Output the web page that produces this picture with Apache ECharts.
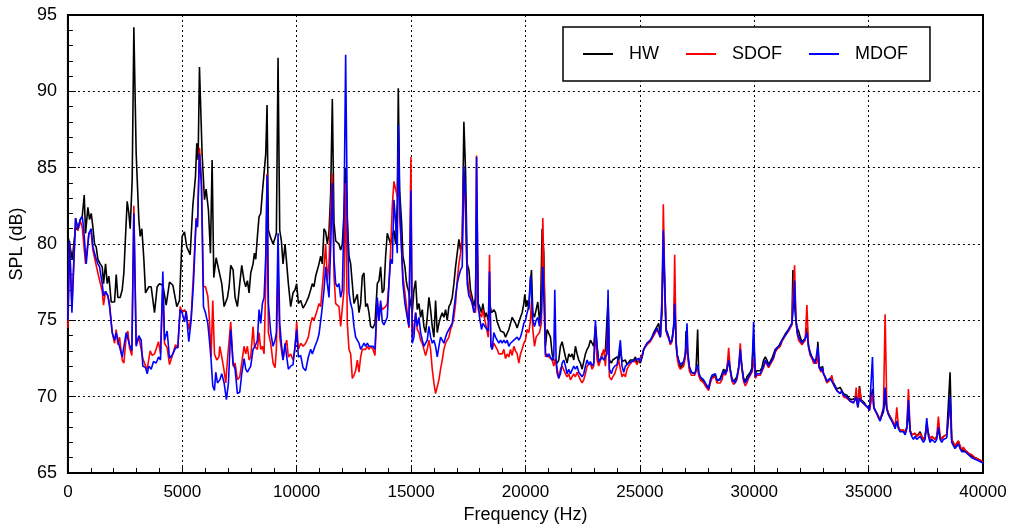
<!DOCTYPE html>
<html>
<head>
<meta charset="utf-8">
<script src="https://cdn.jsdelivr.net/npm/echarts@6/dist/echarts.min.js"></script>
<style>
html,body{margin:0;padding:0;background:#fff;}
#chart{width:1013px;height:531px;}
</style>
</head>
<body>
<div id="chart"></div>
<script>
// Series names
const seriesNames = ['HW', 'SDOF', 'MDOF'];
// Axis ticks
const xTicks = [0, 5000, 10000, 15000, 20000, 25000, 30000, 35000, 40000];
const yTicks = [65, 70, 75, 80, 85, 90, 95];

// HW (black): [frequency Hz, SPL dB]
const hwData = [
[0,80.5],[73,80.0],[189,79.0],[335,81.1],[437,80.9],[539,81.6],[626,81.8],[713,83.2],[771,80.7],[873,82.4],[946,81.6],[1019,82.0],[1092,81.1],[1164,80.0],[1237,79.8],[1310,79.0],[1412,78.7],[1500,78.5],[1557,77.4],[1645,78.7],[1718,77.4],[1790,77.9],[1893,76.2],[2038,76.2],[2111,78.0],[2183,76.5],[2285,76.5],[2373,77.0],[2445,78.1],[2518,80.5],[2590,82.8],[2664,82.0],[2722,81.0],[2809,84.2],[2882,94.2],[2984,85.9],[3100,81.6],[3159,80.5],[3232,81.0],[3319,79.0],[3392,76.8],[3537,77.2],[3639,77.2],[3785,75.5],[3901,77.2],[4003,77.4],[4149,77.3],[4295,76.0],[4440,77.5],[4586,77.3],[4760,75.9],[4877,76.3],[4993,80.5],[5095,80.8],[5197,79.8],[5284,79.8],[5343,79.3],[5459,82.5],[5575,84.4],[5633,86.6],[5691,85.5],[5750,91.6],[5866,85.9],[5970,82.9],[6041,83.6],[6143,82.2],[6230,79.4],[6303,85.5],[6376,77.8],[6478,79.1],[6594,78.3],[6638,78.2],[6725,77.4],[6827,75.9],[6900,75.8],[6973,76.5],[7046,77.2],[7118,78.6],[7220,78.3],[7307,76.5],[7409,75.9],[7511,77.4],[7598,78.6],[7700,77.6],[7773,77.2],[7846,77.6],[7919,76.8],[7991,78.1],[8093,78.7],[8152,79.4],[8210,79.0],[8283,80.5],[8355,81.8],[8428,82.0],[8501,83.4],[8574,83.5],[8647,85.9],[8705,89.1],[8763,80.9],[8865,80.4],[8967,80.0],[9054,80.4],[9112,80.7],[9185,92.2],[9258,80.9],[9331,80.2],[9403,78.7],[9491,80.0],[9564,78.7],[9636,77.4],[9738,75.9],[9840,76.8],[9927,77.0],[10000,77.4],[10073,76.1],[10175,76.3],[10277,75.8],[10393,76.1],[10510,76.5],[10612,77.0],[10684,77.4],[10757,77.2],[10830,77.9],[10903,78.3],[10976,78.7],[11048,79.2],[11121,78.7],[11194,81.0],[11267,80.8],[11340,80.0],[11412,80.8],[11485,83.3],[11558,89.5],[11631,81.4],[11704,80.2],[11776,80.2],[11849,80.0],[11922,79.6],[11995,80.0],[12067,82.0],[12140,85.0],[12213,81.5],[12286,79.2],[12359,78.7],[12431,77.4],[12504,76.1],[12577,76.4],[12650,76.7],[12723,75.5],[12795,76.1],[12868,77.9],[12941,78.1],[13014,75.9],[13087,76.1],[13160,75.5],[13232,74.6],[13334,74.5],[13422,74.8],[13523,77.4],[13596,77.6],[13669,78.5],[13742,76.8],[13815,77.0],[13887,79.2],[13960,80.7],[14033,80.8],[14106,80.0],[14179,80.5],[14251,80.9],[14325,80.0],[14397,82.7],[14441,90.2],[14499,83.5],[14586,81.4],[14644,79.2],[14731,78.5],[14790,77.6],[14834,77.2],[14877,77.0],[14935,76.5],[14993,76.5],[15052,75.5],[15125,77.0],[15198,77.6],[15270,75.7],[15343,76.1],[15416,75.2],[15489,75.7],[15561,74.6],[15634,74.2],[15707,75.2],[15780,76.5],[15853,75.7],[15925,74.6],[15998,73.9],[16071,76.3],[16144,74.2],[16217,74.8],[16289,75.2],[16362,75.5],[16435,75.2],[16508,75.7],[16580,75.0],[16653,75.9],[16726,76.1],[16799,76.5],[16872,77.4],[16944,78.5],[17017,78.6],[17090,80.3],[17163,79.6],[17236,80.3],[17308,88.0],[17381,84.8],[17454,78.7],[17527,78.3],[17599,77.0],[17672,76.5],[17745,75.9],[17818,76.5],[17861,82.0],[17934,76.1],[17992,75.9],[18080,75.5],[18138,76.1],[18225,75.2],[18284,75.5],[18371,75.0],[18429,76.1],[18517,75.5],[18618,75.7],[18691,75.5],[18764,74.9],[18837,74.6],[18910,74.3],[18982,74.4],[19055,74.2],[19128,73.9],[19201,74.0],[19273,74.4],[19346,74.8],[19419,75.2],[19492,75.0],[19565,74.8],[19637,74.5],[19710,74.4],[19782,75.2],[19855,75.5],[19928,76.1],[19972,76.7],[20030,75.9],[20073,76.3],[20146,75.7],[20219,77.6],[20263,78.3],[20321,75.5],[20394,75.2],[20467,75.7],[20539,76.2],[20612,75.0],[20656,75.5],[20729,81.0],[20801,79.4],[20875,73.3],[20947,74.4],[21020,74.5],[21093,73.9],[21166,72.8],[21238,72.4],[21311,72.5],[21384,72.2],[21456,72.4],[21529,73.3],[21602,73.6],[21675,73.5],[21748,72.6],[21820,72.2],[21893,72.8],[21966,72.6],[22039,72.8],[22111,72.4],[22184,73.3],[22257,72.8],[22330,72.4],[22402,72.2],[22475,71.8],[22548,72.3],[22621,72.8],[22694,73.1],[22767,73.3],[22839,73.7],[22912,73.5],[22985,73.3],[23058,74.6],[23130,73.3],[23203,72.2],[23276,72.4],[23349,72.8],[23422,72.8],[23494,73.0],[23567,73.1],[23611,76.4],[23669,72.4],[23756,72.2],[23815,72.4],[23902,72.3],[24004,72.6],[24077,72.4],[24149,73.1],[24222,72.3],[24295,72.2],[24368,72.4],[24440,72.1],[24513,72.2],[24586,72.4],[24659,72.3],[24732,72.4],[24804,72.6],[24877,72.2],[24950,72.4],[25023,72.2],[25096,72.6],[25168,73.1],
[25241,73.3],[25314,73.5],[25387,73.4],[25460,73.7],[25532,73.9],[25605,74.2],[25678,74.2],[25751,74.6],[25823,74.8],[25896,74.0],[25969,75.5],[26027,80.5],[26085,77.2],[26144,74.4],[26202,74.2],[26260,73.9],[26333,73.5],[26406,73.7],[26479,74.6],[26523,76.5],[26581,73.6],[26624,72.8],[26697,72.3],[26770,71.9],[26843,72.0],[26916,72.2],[26989,72.8],[27018,74.3],[27061,73.0],[27105,72.6],[27163,71.9],[27250,71.6],[27309,71.5],[27396,71.5],[27454,71.7],[27527,74.4],[27571,71.5],[27643,71.2],[27716,71.1],[27789,71.0],[27862,70.8],[27935,70.9],[28007,70.6],[28080,71.0],[28153,71.3],[28226,71.2],[28299,71.4],[28371,71.0],[28444,71.0],[28517,71.2],[28590,71.3],[28662,71.8],[28735,71.6],[28808,71.9],[28881,72.6],[28954,71.8],[29026,71.2],[29099,71.0],[29172,70.9],[29245,71.3],[29318,71.9],[29390,72.8],[29463,71.9],[29536,71.2],[29609,71.0],[29681,71.3],[29754,71.4],[29827,71.6],[29900,71.9],[29973,73.8],[30045,71.5],[30118,71.7],[30191,71.8],[30264,71.7],[30337,71.9],[30409,72.4],[30482,72.6],[30555,72.4],[30628,72.1],[30700,72.3],[30773,72.5],[30846,72.6],[30919,73.1],[30992,73.2],[31064,73.3],[31137,73.5],[31210,73.7],[31283,73.9],[31355,74.1],[31428,74.2],[31501,74.4],[31574,74.5],[31647,74.8],[31690,78.3],[31763,76.0],[31821,75.0],[31880,74.5],[31938,74.3],[32011,73.9],[32084,73.6],[32156,73.7],[32229,73.8],[32302,74.5],[32375,73.3],[32447,72.9],[32520,72.6],[32593,72.4],[32666,72.3],[32738,72.4],[32781,73.6],[32840,72.0],[32927,71.8],[32985,72.0],[33029,71.5],[33102,71.3],[33175,71.0],[33247,71.1],[33320,71.2],[33393,71.3],[33466,70.9],[33538,70.7],[33611,70.5],[33684,70.4],[33757,70.6],[33830,70.5],[33902,70.2],[33975,70.3],[34048,70.1],[34121,69.9],[34193,69.8],[34266,69.8],[34339,69.7],[34412,69.9],[34456,70.1],[34528,69.4],[34601,70.7],[34674,69.8],[34747,69.7],[34819,69.6],[34892,69.4],[34965,69.3],[35038,69.2],[35111,69.2],[35169,70.5],[35227,69.3],[35285,69.1],[35358,68.9],[35431,68.7],[35504,68.5],[35576,68.4],[35649,69.0],[35722,70.0],[35795,69.2],[35868,68.9],[35940,68.7],[36013,68.5],[36086,68.2],[36159,68.0],[36231,68.4],[36304,68.0],[36377,67.8],[36450,67.9],[36523,67.8],[36595,67.6],[36668,68.0],[36741,69.0],[36814,67.8],[36886,67.5],[36959,67.4],[37032,67.6],[37105,67.4],[37178,67.3],[37250,67.7],[37323,67.4],[37396,67.2],[37469,67.4],[37541,68.0],[37614,67.6],[37687,67.2],[37760,67.4],[37833,67.3],[37905,67.2],[37978,67.4],[38051,68.0],[38124,67.4],[38197,67.2],[38269,67.4],[38342,67.3],[38415,67.5],[38488,67.4],[38561,71.6],[38633,67.2],[38706,66.9],[38779,66.7],[38852,66.8],[38924,67.1],[38997,66.7],[39070,66.5],[39143,66.6],[39216,66.5],[39288,66.4],[39361,66.3],[39434,66.2],[39507,66.1],[39580,66.2],[39652,66.0],[39725,66.1],[39798,65.9],[39871,65.9],[39943,65.7],[40000,65.7]
];

// SDOF (red)
const sdofData = [
[0,74.5],[73,80.0],[175,75.9],[335,81.7],[437,80.9],[539,81.5],[626,81.1],[684,81.2],[771,78.7],[917,80.7],[1019,80.7],[1092,79.6],[1164,79.1],[1237,79.0],[1310,78.1],[1382,78.1],[1500,76.9],[1557,76.0],[1645,76.9],[1747,76.6],[1820,76.1],[1936,74.2],[2038,73.5],[2111,74.4],[2183,73.4],[2256,73.9],[2373,72.4],[2445,72.2],[2547,73.9],[2620,74.3],[2693,73.2],[2795,72.7],[2882,82.5],[2984,73.4],[3100,73.9],[3202,73.1],[3275,72.5],[3392,72.0],[3465,71.8],[3596,73.0],[3683,72.7],[3785,72.8],[3858,72.8],[3960,73.6],[4047,72.8],[4149,77.2],[4222,73.5],[4338,73.2],[4440,72.1],[4586,72.8],[4702,73.4],[4804,73.2],[4906,75.9],[4993,75.5],[5095,75.7],[5168,75.5],[5284,74.4],[5386,75.2],[5488,78.1],[5604,81.7],[5662,81.2],[5750,86.3],[5837,84.2],[5924,77.2],[6012,77.2],[6114,76.6],[6186,75.0],[6259,72.6],[6332,76.3],[6405,72.8],[6507,72.4],[6600,72.6],[6638,73.3],[6725,72.6],[6827,71.7],[6900,70.9],[6973,72.4],[7046,72.4],[7118,74.9],[7220,72.0],[7307,72.2],[7409,71.1],[7511,71.3],[7598,72.2],[7700,73.3],[7773,72.8],[7846,73.3],[7919,72.4],[7991,72.6],[8093,74.6],[8152,73.3],[8283,73.1],[8355,74.2],[8428,73.1],[8501,73.3],[8574,72.8],[8647,77.4],[8705,84.6],[8763,74.2],[8865,73.5],[8967,72.2],[9054,71.9],[9112,73.1],[9185,78.5],[9258,73.9],[9331,73.1],[9403,72.4],[9491,73.3],[9564,73.7],[9636,72.6],[9738,72.8],[9840,72.4],[9927,73.1],[10000,74.9],[10073,73.1],[10175,73.5],[10277,73.3],[10393,73.5],[10510,73.9],[10612,74.8],[10684,75.2],[10757,75.0],[10830,75.0],[10903,75.7],[10976,76.1],[11048,75.9],[11121,75.9],[11194,78.5],[11267,80.0],[11340,77.6],[11412,78.7],[11485,82.2],[11558,84.6],[11631,77.9],[11704,76.1],[11776,76.1],[11849,75.9],[11922,74.6],[11995,74.6],[12067,77.0],[12140,84.0],[12213,74.8],[12286,73.1],[12359,72.8],[12431,71.2],[12504,71.4],[12577,71.7],[12650,72.4],[12723,71.6],[12795,72.6],[12868,73.1],[12941,73.1],[13014,73.1],[13087,73.3],[13160,73.1],[13232,73.3],[13334,73.1],[13422,72.7],[13523,76.3],[13596,75.0],[13669,76.1],[13742,75.7],[13815,75.8],[13887,75.9],[13960,76.1],[14033,77.4],[14106,79.6],[14179,82.5],[14251,84.1],[14325,84.2],[14397,83.1],[14441,86.0],[14499,81.8],[14586,79.6],[14644,77.9],[14731,76.8],[14834,75.5],[14906,74.5],[14993,85.7],[15052,73.9],[15125,74.6],[15198,75.5],[15270,74.4],[15343,74.2],[15416,73.7],[15489,73.5],[15561,73.1],[15634,72.7],[15707,73.1],[15780,73.7],[15853,73.1],[15925,71.8],[15998,70.9],[16071,70.2],[16144,70.1],[16217,71.1],[16289,71.8],[16362,72.4],[16435,73.1],[16508,73.5],[16580,73.7],[16653,73.9],[16726,74.4],[16799,74.7],[16872,75.2],[16944,76.1],[17017,77.6],[17090,78.7],[17163,79.4],[17236,80.5],[17308,84.8],[17381,81.8],[17454,77.9],[17527,77.0],[17599,76.6],[17672,76.1],[17745,75.7],[17818,75.5],[17861,85.8],[17934,75.7],[17992,75.5],[18080,75.2],[18138,75.7],[18225,75.0],[18284,74.6],[18371,73.9],[18429,79.3],[18487,73.5],[18546,73.1],[18618,73.5],[18691,73.3],[18764,73.1],[18837,72.8],[18910,72.7],[18982,72.8],[19055,73.1],[19128,72.5],[19201,72.8],[19273,72.6],[19346,73.1],[19419,72.7],[19492,73.3],[19565,73.0],[19637,72.8],[19710,72.2],[19782,72.8],[19855,73.1],[19928,73.5],[20001,73.7],[20073,74.4],[20146,74.2],[20219,75.0],[20263,76.3],[20321,74.4],[20394,73.3],[20467,73.9],[20539,73.9],[20612,74.2],[20699,74.8],[20758,81.7],[20816,77.6],[20875,72.6],[20947,72.8],[21020,72.6],[21093,72.7],[21166,72.4],[21238,72.0],[21311,72.5],[21384,71.5],[21456,71.2],[21529,71.8],[21602,72.0],[21675,72.0],[21748,71.5],[21820,71.3],[21893,71.5],[21966,71.1],[22039,71.3],[22111,71.5],[22184,71.3],[22257,71.6],[22330,71.5],[22402,71.1],[22475,70.9],[22548,71.1],[22621,71.5],[22694,72.0],[22767,72.1],[22839,72.2],[22912,71.8],[22985,72.0],[23058,74.4],[23130,72.4],[23203,72.0],[23276,72.1],[23349,72.8],[23422,73.1],[23494,72.0],[23567,72.0],[23611,75.0],[23669,71.3],[23756,71.1],[23815,71.3],[23902,71.5],[24004,72.0],[24077,72.4],[24149,71.8],[24222,71.3],[24295,71.5],[24368,71.3],[24440,71.8],[24513,72.0],[24586,72.0],[24659,72.3],[24732,72.4],[24804,72.3],[24877,72.1],[24950,72.4],[25023,72.3],[25096,72.7],[25168,73.1],
[25241,73.2],[25314,73.4],[25387,73.3],[25460,73.6],[25532,73.8],[25605,74.0],[25678,74.1],[25751,74.4],[25823,74.5],[25896,73.9],[25969,76.0],[26027,82.6],[26085,77.6],[26144,74.3],[26202,74.0],[26260,73.8],[26333,73.4],[26406,73.6],[26479,74.5],[26523,79.3],[26581,73.7],[26624,72.6],[26697,72.0],[26770,71.8],[26843,71.9],[26916,72.0],[26989,72.6],[27018,73.2],[27061,73.6],[27105,72.5],[27163,71.7],[27250,71.4],[27309,71.3],[27396,71.4],[27454,71.5],[27527,72.0],[27571,71.4],[27643,71.1],[27716,71.0],[27789,70.9],[27862,70.7],[27935,70.8],[28007,70.4],[28080,70.9],[28153,71.2],[28226,71.1],[28299,71.3],[28371,70.9],[28444,70.8],[28517,70.9],[28590,71.1],[28662,71.6],[28735,71.4],[28808,71.7],[28881,73.2],[28954,71.7],[29026,71.0],[29099,70.8],[29172,70.7],[29245,71.1],[29318,71.8],[29390,73.5],[29463,71.8],[29536,71.0],[29609,70.7],[29681,70.9],[29754,71.2],[29827,71.4],[29900,71.6],[29973,72.5],[30045,71.2],[30118,71.4],[30191,71.5],[30264,71.4],[30337,71.5],[30409,71.9],[30482,72.3],[30555,72.1],[30628,71.9],[30700,72.1],[30773,72.3],[30846,72.5],[30919,72.9],[30992,73.1],[31064,73.2],[31137,73.3],[31210,73.6],[31283,73.8],[31355,74.0],[31428,74.1],[31501,74.3],[31574,74.4],[31647,74.7],[31690,76.5],[31763,78.6],[31821,75.1],[31880,74.1],[31938,73.7],[32011,73.6],[32084,73.4],[32156,73.5],[32229,73.7],[32302,76.0],[32375,73.2],[32447,72.7],[32520,72.5],[32593,72.2],[32666,72.1],[32738,72.2],[32781,72.9],[32840,71.9],[32927,71.6],[32985,71.8],[33029,71.5],[33102,71.2],[33175,70.9],[33247,71.0],[33320,71.1],[33393,71.4],[33466,70.8],[33538,70.6],[33611,70.4],[33684,70.3],[33757,70.2],[33830,70.4],[33902,70.0],[33975,70.1],[34048,69.9],[34121,69.8],[34193,69.7],[34266,69.7],[34339,69.6],[34412,69.8],[34456,70.6],[34528,69.3],[34601,70.6],[34674,69.7],[34747,69.6],[34819,69.5],[34892,69.4],[34965,69.3],[35038,69.1],[35111,69.2],[35169,70.2],[35227,69.3],[35285,69.1],[35358,68.9],[35431,68.7],[35504,68.5],[35576,68.4],[35649,69.3],[35722,75.4],[35795,69.3],[35868,68.9],[35940,68.7],[36013,68.5],[36086,68.3],[36159,68.0],[36231,69.3],[36304,68.0],[36377,67.8],[36450,67.9],[36523,67.8],[36595,67.6],[36668,68.0],[36741,70.5],[36814,67.8],[36886,67.5],[36959,67.4],[37032,67.6],[37105,67.4],[37178,67.3],[37250,67.6],[37323,67.4],[37396,67.2],[37469,67.4],[37541,68.3],[37614,67.6],[37687,67.2],[37760,67.4],[37833,67.3],[37905,67.2],[37978,67.4],[38051,68.7],[38124,67.4],[38197,67.2],[38269,67.4],[38342,67.3],[38415,67.5],[38488,67.4],[38561,69.5],[38633,67.2],[38706,67.0],[38779,66.8],[38852,66.9],[38924,67.1],[38997,66.8],[39070,66.5],[39143,66.7],[39216,66.5],[39288,66.4],[39361,66.3],[39434,66.2],[39507,66.2],[39580,66.2],[39652,66.0],[39725,66.1],[39798,65.9],[39871,65.9],[39943,65.8],[40000,65.7]
];

// MDOF (blue)
const mdofData = [
[0,75.0],[73,80.2],[175,75.5],[335,81.7],[437,81.0],[539,81.6],[626,81.8],[684,81.1],[800,78.7],[917,80.7],[1019,81.0],[1092,79.8],[1164,79.4],[1237,79.0],[1310,78.7],[1382,78.5],[1500,77.4],[1557,76.6],[1645,76.9],[1747,76.6],[1820,75.9],[1936,74.2],[2038,73.7],[2111,74.2],[2183,73.7],[2256,73.8],[2373,72.6],[2445,72.5],[2547,74.2],[2620,74.3],[2693,73.4],[2795,73.0],[2882,82.0],[2984,73.3],[3100,74.0],[3202,73.7],[3275,72.0],[3392,71.9],[3465,71.5],[3537,72.0],[3639,71.8],[3741,72.3],[3858,72.2],[3960,72.6],[4047,72.4],[4149,78.2],[4222,73.7],[4338,74.3],[4440,72.5],[4586,72.8],[4702,73.2],[4804,73.2],[4906,75.7],[4993,75.5],[5095,74.9],[5168,75.6],[5284,73.6],[5386,75.0],[5488,77.4],[5604,81.6],[5662,81.1],[5750,85.9],[5837,83.8],[5924,75.9],[6012,75.5],[6114,74.8],[6186,73.7],[6259,72.4],[6332,70.7],[6405,70.4],[6463,71.6],[6536,70.9],[6638,71.1],[6725,71.5],[6827,70.9],[6929,69.8],[7016,70.9],[7118,74.4],[7220,72.2],[7307,71.8],[7409,70.2],[7511,70.3],[7598,71.5],[7700,72.5],[7773,71.8],[7846,71.6],[7919,71.5],[7991,72.0],[8093,73.1],[8181,73.3],[8283,73.7],[8355,75.7],[8428,74.8],[8501,76.1],[8574,76.5],[8647,79.2],[8705,84.5],[8763,76.1],[8865,74.2],[8967,73.3],[9054,73.7],[9112,74.2],[9185,80.7],[9258,74.8],[9331,73.5],[9403,72.4],[9491,73.5],[9564,72.6],[9636,71.8],[9738,72.0],[9840,72.1],[9927,72.1],[10000,74.4],[10073,72.6],[10175,72.7],[10277,71.9],[10393,71.7],[10510,72.6],[10612,73.1],[10684,72.8],[10800,73.3],[10903,73.7],[10976,74.1],[11092,75.5],[11194,77.0],[11267,78.5],[11340,77.4],[11412,76.5],[11485,79.8],[11558,84.0],[11631,79.0],[11704,77.4],[11776,77.2],[11849,77.4],[11922,76.5],[11995,77.0],[12067,81.8],[12140,92.4],[12213,81.8],[12286,76.8],[12359,76.1],[12431,75.7],[12504,74.6],[12577,73.9],[12650,73.7],[12723,73.5],[12795,73.1],[12868,73.3],[12941,73.5],[13014,73.3],[13087,73.5],[13160,73.3],[13232,73.4],[13334,73.3],[13422,73.1],[13523,76.5],[13596,75.0],[13669,76.3],[13742,74.9],[13815,74.7],[13887,74.8],[13960,75.2],[14033,77.4],[14106,79.0],[14179,78.7],[14251,82.9],[14325,81.4],[14397,79.4],[14441,87.8],[14499,82.9],[14586,79.6],[14644,77.4],[14731,76.1],[14834,75.2],[14906,74.6],[14993,83.5],[15052,73.5],[15125,73.9],[15198,75.5],[15270,74.6],[15343,75.2],[15416,74.2],[15489,73.7],[15561,73.3],[15634,73.5],[15707,73.7],[15780,74.6],[15853,73.9],[15925,73.5],[15998,73.7],[16071,73.3],[16144,72.6],[16217,73.3],[16289,73.9],[16362,73.7],[16435,73.5],[16508,73.9],[16580,74.2],[16653,74.4],[16726,74.6],[16799,74.8],[16872,75.7],[16944,76.6],[17017,77.4],[17090,77.9],[17163,78.3],[17236,78.5],[17308,85.1],[17381,82.9],[17454,77.4],[17527,76.6],[17599,76.4],[17672,76.1],[17745,75.5],[17818,75.9],[17861,85.7],[17934,76.1],[17992,75.2],[18080,74.4],[18138,74.8],[18225,74.6],[18284,74.6],[18371,74.3],[18429,78.2],[18487,73.3],[18546,73.1],[18618,74.2],[18691,73.9],[18764,73.7],[18837,73.5],[18910,73.7],[18982,73.5],[19055,73.7],[19128,73.5],[19201,73.7],[19273,73.3],[19346,73.5],[19419,73.5],[19492,73.7],[19565,73.6],[19637,73.9],[19710,73.7],[19782,73.9],[19855,74.3],[19928,74.8],[20001,75.0],[20073,75.5],[20146,75.9],[20219,77.9],[20263,77.0],[20321,75.0],[20394,74.6],[20467,75.0],[20539,75.2],[20612,74.6],[20699,75.5],[20758,78.5],[20816,75.9],[20875,72.8],[20947,72.6],[21020,72.8],[21093,72.7],[21166,72.4],[21238,72.6],[21282,77.0],[21340,72.4],[21384,71.8],[21456,71.2],[21529,71.5],[21602,72.2],[21675,72.4],[21748,72.0],[21820,71.5],[21893,71.8],[21966,71.5],[22039,71.5],[22111,72.0],[22184,71.8],[22257,72.0],[22330,71.6],[22402,71.5],[22475,71.3],[22548,71.5],[22621,72.0],[22694,72.4],[22767,72.1],[22839,72.3],[22912,72.0],[22985,72.2],[23058,75.0],[23130,73.3],[23203,72.3],[23276,72.2],[23349,72.6],[23422,72.4],[23494,72.6],[23567,72.8],[23611,77.0],[23669,71.8],[23756,71.5],[23815,71.8],[23902,72.0],[24004,72.1],[24077,72.8],[24149,73.7],[24222,72.0],[24295,71.6],[24368,72.0],[24440,72.1],[24513,72.2],[24586,72.2],[24659,72.3],[24732,72.4],[24804,72.4],[24877,72.3],[24950,72.5],[25023,72.3],[25096,72.6],[25168,73.1],
[25241,73.3],[25314,73.5],[25387,73.4],[25460,73.7],[25532,73.9],[25605,74.1],[25678,74.2],[25751,74.5],[25823,74.6],[25896,73.9],[25969,76.5],[26027,80.9],[26085,77.6],[26144,74.4],[26202,74.1],[26260,73.9],[26333,73.5],[26406,73.7],[26479,74.6],[26523,76.1],[26581,73.7],[26624,72.8],[26697,72.4],[26770,72.1],[26843,72.2],[26916,72.3],[26989,72.8],[27018,73.3],[27061,74.8],[27105,72.8],[27163,72.0],[27250,71.6],[27309,71.5],[27396,71.5],[27454,71.6],[27527,72.1],[27571,71.6],[27643,71.3],[27716,71.2],[27789,71.1],[27862,70.9],[27935,71.0],[28007,70.5],[28080,71.1],[28153,71.4],[28226,71.3],[28299,71.5],[28371,71.1],[28444,71.0],[28517,71.1],[28590,71.2],[28662,71.7],[28735,71.5],[28808,71.7],[28881,72.4],[28954,71.7],[29026,71.1],[29099,71.0],[29172,70.9],[29245,71.3],[29318,71.9],[29390,73.1],[29463,71.9],[29536,71.1],[29609,70.9],[29681,71.1],[29754,71.3],[29827,71.5],[29900,71.7],[29973,74.9],[30045,71.3],[30118,71.5],[30191,71.6],[30264,71.5],[30337,71.6],[30409,72.0],[30482,72.4],[30555,72.2],[30628,72.0],[30700,72.2],[30773,72.4],[30846,72.6],[30919,73.0],[30992,73.2],[31064,73.3],[31137,73.4],[31210,73.7],[31283,73.8],[31355,74.0],[31428,74.2],[31501,74.4],[31574,74.5],[31647,74.8],[31690,75.5],[31763,77.6],[31821,75.0],[31880,74.2],[31938,73.9],[32011,73.7],[32084,73.5],[32156,73.6],[32229,73.8],[32302,74.2],[32375,73.3],[32447,72.8],[32520,72.6],[32593,72.4],[32666,72.2],[32738,72.3],[32781,73.3],[32840,71.9],[32927,71.7],[32985,71.9],[33029,71.5],[33102,71.3],[33175,71.0],[33247,71.1],[33320,71.2],[33393,71.3],[33466,70.8],[33538,70.6],[33611,70.4],[33684,70.3],[33757,70.2],[33830,70.4],[33902,70.1],[33975,70.2],[34048,70.0],[34121,69.9],[34193,69.7],[34266,69.8],[34339,69.6],[34412,69.8],[34456,70.0],[34528,69.3],[34601,69.9],[34674,69.7],[34747,69.6],[34819,69.5],[34892,69.4],[34965,69.3],[35038,69.1],[35111,69.2],[35169,72.6],[35227,69.3],[35285,69.1],[35358,68.9],[35431,68.6],[35504,68.4],[35576,68.3],[35649,69.2],[35722,70.6],[35795,69.2],[35868,68.8],[35940,68.6],[36013,68.4],[36086,68.2],[36159,67.9],[36231,68.4],[36304,67.9],[36377,67.7],[36450,67.8],[36523,67.7],[36595,67.5],[36668,67.9],[36741,69.8],[36814,67.7],[36886,67.4],[36959,67.2],[37032,67.4],[37105,67.2],[37178,67.1],[37250,67.4],[37323,67.2],[37396,67.0],[37469,67.2],[37541,68.6],[37614,67.4],[37687,67.0],[37760,67.2],[37833,67.1],[37905,67.0],[37978,67.2],[38051,68.0],[38124,67.2],[38197,67.0],[38269,67.2],[38342,67.1],[38415,67.3],[38488,67.2],[38561,70.0],[38633,67.0],[38706,66.8],[38779,66.6],[38852,66.7],[38924,66.9],[38997,66.6],[39070,66.4],[39143,66.5],[39216,66.4],[39288,66.3],[39361,66.2],[39434,66.1],[39507,66.0],[39580,66.1],[39652,65.9],[39725,66.0],[39798,65.8],[39871,65.8],[39943,65.7],[40000,65.6]
];

const chart = echarts.init(document.getElementById('chart'), null, {renderer: 'canvas'});
const FONT = '"Liberation Sans", Arial, Helvetica, sans-serif';
const colors = ['#000000', '#ff0000', '#0000ff'];
const datasets = [hwData, sdofData, mdofData];

chart.setOption({
  animation: false,
  backgroundColor: '#ffffff',
  textStyle: {fontFamily: FONT},
  grid: {left: 67, right: 30, top: 15, bottom: 58, show: true, borderColor: '#000', borderWidth: 2, backgroundColor: 'transparent'},
  legend: {
    left: 563, top: 27,
    padding: [18, 22, 18, 20],
    backgroundColor: '#ffffff', borderColor: '#000', borderWidth: 1.5,
    icon: 'rect', itemWidth: 30, itemHeight: 2, itemGap: 27,
    textStyle: {fontSize: 18, color: '#000', fontFamily: FONT, padding: [0, 0, 0, 11]},
    data: seriesNames
  },
  xAxis: {
    type: 'value', min: xTicks[0], max: xTicks[xTicks.length - 1], interval: xTicks[1] - xTicks[0],
    name: 'Frequency (Hz)', nameLocation: 'middle', nameGap: 33,
    nameTextStyle: {fontSize: 18, color: '#000', fontFamily: FONT},
    axisLine: {show: true, onZero: false, lineStyle: {color: '#000', width: 2}},
    axisTick: {show: true, inside: true, length: 8, lineStyle: {color: '#000', width: 1}},
    minorTick: {show: true, splitNumber: 5, length: 5, lineStyle: {color: '#000', width: 1}},
    splitLine: {show: true, lineStyle: {color: '#000', width: 1, type: [2, 3]}},
    axisLabel: {fontSize: 17, color: '#000', margin: 11, fontFamily: FONT, formatter: v => String(v)}
  },
  yAxis: {
    type: 'value', min: yTicks[0], max: yTicks[yTicks.length - 1], interval: yTicks[1] - yTicks[0],
    name: 'SPL (dB)', nameLocation: 'middle', nameGap: 38, nameRotate: 90,
    nameTextStyle: {fontSize: 18, color: '#000', fontFamily: FONT},
    axisLine: {show: true, onZero: false, lineStyle: {color: '#000', width: 2}},
    axisTick: {show: true, inside: true, length: 8, lineStyle: {color: '#000', width: 1}},
    minorTick: {show: true, splitNumber: 5, length: 5, lineStyle: {color: '#000', width: 1}},
    splitLine: {show: true, lineStyle: {color: '#000', width: 1, type: [2, 3]}},
    axisLabel: {fontSize: 18, color: '#000', margin: 11, fontFamily: FONT, formatter: v => String(v)}
  },
  series: seriesNames.map((n, i) => ({
    name: n, type: 'line', data: datasets[i],
    showSymbol: false, symbol: 'none',
    lineStyle: {color: colors[i], width: 1.6},
    itemStyle: {color: colors[i]},
    z: 2 + i
  }))
});
</script>
</body>
</html>
